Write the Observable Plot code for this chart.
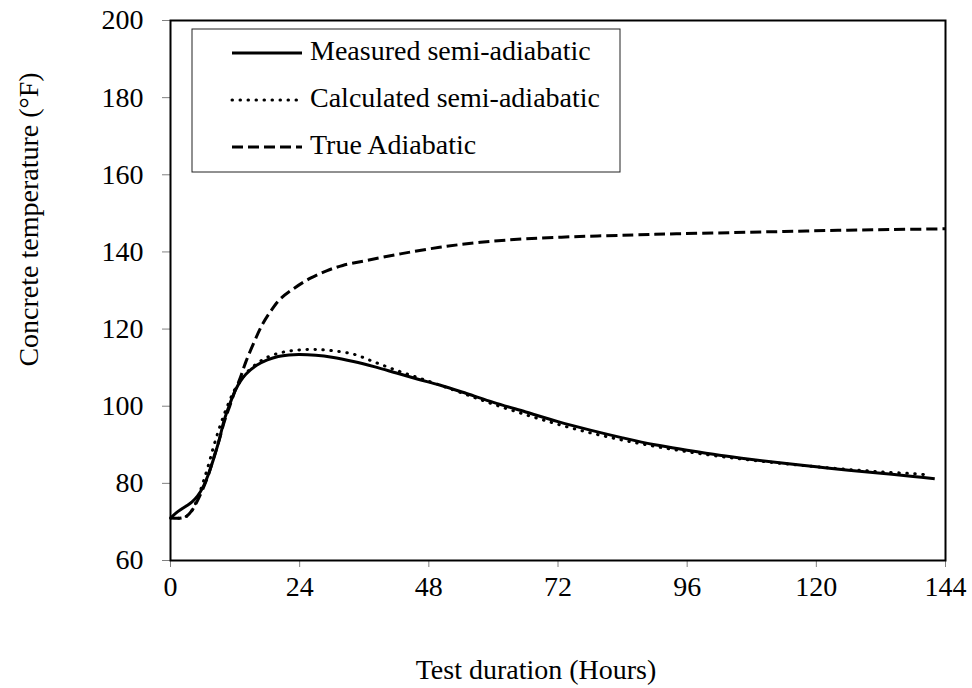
<!DOCTYPE html>
<html>
<head>
<meta charset="utf-8">
<script src="https://cdn.jsdelivr.net/npm/d3@7"></script>
<script src="https://cdn.jsdelivr.net/npm/@observablehq/plot@0.6"></script>
<style>
  html, body { margin: 0; padding: 0; background: white; }
  #chart { width: 972px; height: 688px; position: relative; }
</style>
</head>
<body>
<div id="chart"></div>
<script>
// ---- data ----
const seriesNames = ["Measured semi-adiabatic", "Calculated semi-adiabatic", "True Adiabatic"];
const xLabel = "Test duration (Hours)";
const yLabel = "Concrete temperature (°F)";

const measuredHours = [0,1,2,3,4,5,6,7,8,9,10,11,12,13,14,16,18,20,22,24,27,30,34,38,42,46,50,55,60,66,72,78,84,90,96,102,108,114,120,126,132,138,142];
const measuredTemp  = [71,72.3,73.3,74.2,75.2,76.7,78.9,82.2,86.3,91,96.5,100.5,104,106.5,108.3,110.6,112,112.9,113.3,113.4,113.2,112.7,111.6,110.2,108.6,107,105.5,103.3,101,98.5,96,93.8,91.8,90,88.6,87.3,86.2,85.2,84.3,83.4,82.6,81.8,81.2];

const calculatedHours = [0,1,2,3,4,5,6,7,8,9,10,11,12,13,14,16,18,20,22,24,27,30,34,38,42,46,50,55,60,66,72,78,84,90,96,102,108,114,120,126,132,138,140];
const calculatedTemp  = [71,71,71,71.5,73,76,80,84.5,89.5,94,98,101.5,104.5,106.5,108.5,111,112.7,113.7,114.3,114.6,114.7,114.4,113.5,111.4,109.3,107.4,105.5,103,100.5,97.8,95.3,93.1,91.2,89.6,88.2,87,86,85.1,84.3,83.6,83,82.5,82.3];

const adiabaticHours = [0,2,3,4,5,6,7,8,9,10,11,12,13,14,15.5,17,18.6,20.4,23,26,29,32,36.5,42.7,50,57.6,66,76,86,94,104,114,124,134,144];
const adiabaticTemp  = [71,71,71.5,73,75.5,78.5,82,86.5,91,96,100,104,107.5,111.5,116.5,121,124.6,127.8,130.6,133.2,135.1,136.5,137.8,139.5,141.2,142.5,143.4,144,144.4,144.7,145,145.3,145.6,145.8,146];

const xTicks = [0,24,48,72,96,120,144];
const yTicks = [60,80,100,120,140,160,180,200];

// build tables
const toRows = (hs, ts, s) => hs.map((h, i) => ({hours: h, temp: ts[i], series: s}));
const measured   = toRows(measuredHours, measuredTemp, seriesNames[0]);
const calculated = toRows(calculatedHours, calculatedTemp, seriesNames[1]);
const adiabatic  = toRows(adiabaticHours, adiabaticTemp, seriesNames[2]);

const lineStyles = [
  {strokeWidth: 3, strokeDasharray: null, strokeLinecap: "butt"},
  {strokeWidth: 3, strokeDasharray: "0.5,7.5", strokeLinecap: "round"},
  {strokeWidth: 3, strokeDasharray: "11,5", strokeLinecap: "butt"}
];

const FONT = "'Liberation Serif', 'Times New Roman', serif";
const FS = 28;

const plot = Plot.plot({
  width: 972,
  height: 688,
  marginLeft: 170,
  marginRight: 27,
  marginTop: 20,
  marginBottom: 128,
  style: {fontFamily: FONT, fontSize: FS + "px", background: "white", color: "black"},
  x: {domain: [0, 144]},
  y: {domain: [60, 200]},
  marks: [
    Plot.axisX({ticks: xTicks, tickSize: 7, tickPadding: 9, stroke: "#808080", fill: "black", label: null}),
    Plot.axisY({ticks: yTicks, tickSize: 8, tickPadding: 19, stroke: "#808080", fill: "black", label: null}),
    Plot.text([xLabel], {text: d => d, frameAnchor: "bottom", textAnchor: "middle", lineAnchor: "middle",
      dx: -22, dy: 110, fill: "black", fontSize: FS}),
    Plot.text([yLabel], {text: d => d, frameAnchor: "left", textAnchor: "middle", lineAnchor: "middle",
      rotate: -90, dx: -141, dy: -71, fill: "black", fontSize: FS}),
    Plot.line(measured,   {x: "hours", y: "temp", stroke: "black", curve: "catmull-rom", ...lineStyles[0], strokeLinejoin: "round"}),
    Plot.line(calculated, {x: "hours", y: "temp", stroke: "black", curve: "catmull-rom", ...lineStyles[1]}),
    Plot.line(adiabatic,  {x: "hours", y: "temp", stroke: "black", curve: "catmull-rom", ...lineStyles[2]}),
    Plot.frame({stroke: "black", strokeWidth: 2})
  ]
});

// legend drawn inside the plot frame, top-left
const svg = d3.select(plot);
const legX = 170 + 22, legY = 20 + 9;
const legW = 428, legH = 143;
const g = svg.append("g").attr("font-family", FONT).attr("font-size", FS).attr("text-anchor", "start");
g.append("rect").attr("x", legX).attr("y", legY).attr("width", legW).attr("height", legH)
  .attr("fill", "white").attr("stroke", "#222").attr("stroke-width", 1);
seriesNames.forEach((name, i) => {
  const cy = legY + 24 + i * 47;
  const st = lineStyles[i];
  const ln = g.append("line").attr("x1", legX + 40).attr("x2", legX + 110).attr("y1", cy).attr("y2", cy)
    .attr("stroke", "black").attr("stroke-width", st.strokeWidth).attr("stroke-linecap", st.strokeLinecap);
  if (st.strokeDasharray) ln.attr("stroke-dasharray", st.strokeDasharray);
  g.append("text").attr("x", legX + 118).attr("y", cy).attr("dy", "0.25em").attr("fill", "black").text(name);
});

document.getElementById("chart").appendChild(plot);
</script>
</body>
</html>
